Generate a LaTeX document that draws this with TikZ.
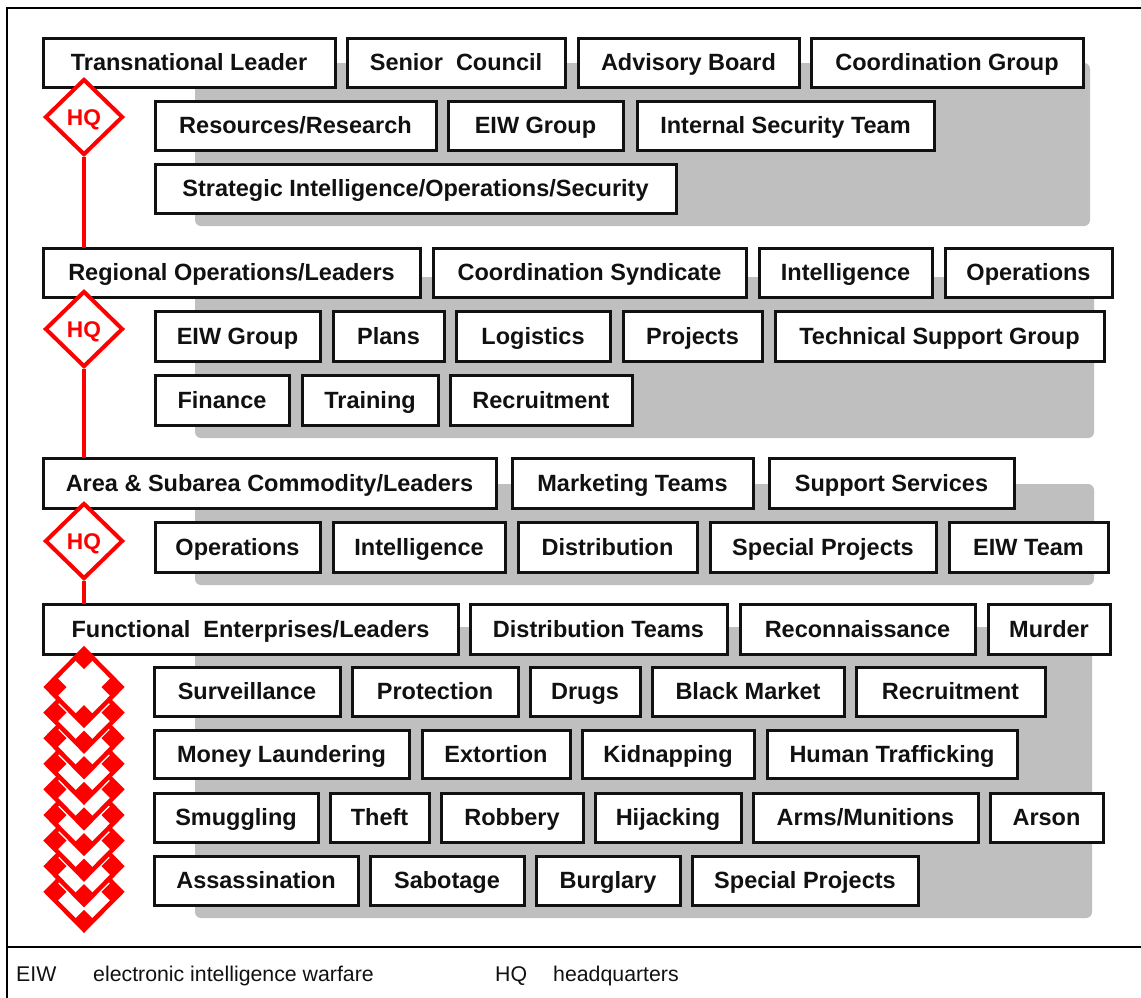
\documentclass[tikz,border=0pt]{standalone}
\usepackage{fontspec}
\setmainfont{Liberation Sans}
\usetikzlibrary{shapes.geometric}
\definecolor{panelgray}{HTML}{BFBFBF}
\definecolor{hqred}{HTML}{FF0000}
\definecolor{inkblack}{HTML}{111111}
\tikzset{
  orgbox/.style={draw=inkblack, line width=3pt, fill=white, inner sep=0pt, outer sep=0pt,
    font=\fontsize{23.5}{28}\selectfont\bfseries, text=inkblack,
    text height=16.8pt, text depth=0.5pt, align=center},
  hqdiamond/.style={diamond, draw=hqred, line width=4pt, fill=white, inner sep=0pt,
    minimum width=78pt, minimum height=76pt, text=hqred,
    font=\fontsize{22.7}{26}\selectfont\bfseries, text height=16.3pt, text depth=0pt},
  redline/.style={draw=hqred, line width=4pt},
  panel/.style={fill=panelgray, rounded corners=6pt},
  legend/.style={font=\fontsize{21.3}{25}\selectfont, anchor=base west, inner sep=0pt, text=inkblack},
  framestyle/.style={draw=black, line width=2.5pt}
}
\newcommand\orgbx[6]{%
  \node[orgbox, minimum width={(#4-#2)*1pt}, minimum height={(#5-#3)*1pt}]
    (#1) at ({(#2+#4)/2},{(#3+#5)/2}) {#6};}
\begin{document}
\begin{tikzpicture}[x=1pt,y=-1pt]
\useasboundingbox (0,0) rectangle (1141,997);
\fill[white] (0,0) rectangle (1141,997);
% frame
\draw[framestyle] (1150,8) -- (7,8) -- (7,1005);
\draw[framestyle] (7,947) -- (1150,947);
% panels
\fill[panel] (195,63) rectangle (1090,226);
\fill[panel] (195,277) rectangle (1094,438);
\fill[panel] (195,484) rectangle (1094,585);
\fill[panel] (195,627) rectangle (1092,918);
% level 1
\orgbx{tl}{43}{38}{335}{87}{Transnational Leader}
\orgbx{sc}{347}{38}{565}{87}{Senior\ \ Council}
\orgbx{ab}{578}{38}{799}{87}{Advisory Board}
\orgbx{cg}{811}{38}{1083}{87}{Coordination Group}
\orgbx{rr}{155}{101}{436}{150}{Resources/Research}
\orgbx{eiwa}{448}{101}{623}{150}{EIW Group}
\orgbx{ist}{637}{101}{934}{150}{Internal Security Team}
\orgbx{sios}{155}{164}{676}{213}{Strategic Intelligence/Operations/Security}
% level 2
\orgbx{rol}{43}{248}{420}{297}{Regional Operations/Leaders}
\orgbx{cs}{433}{248}{746}{297}{Coordination Syndicate}
\orgbx{inta}{759}{248}{932}{297}{Intelligence}
\orgbx{opsa}{945}{248}{1112}{297}{Operations}
\orgbx{eiwb}{155}{311}{320}{361}{EIW Group}
\orgbx{plans}{333}{311}{444}{361}{Plans}
\orgbx{logi}{456}{311}{610}{361}{Logistics}
\orgbx{proj}{623}{311}{762}{361}{Projects}
\orgbx{tsg}{775}{311}{1104}{361}{Technical Support Group}
\orgbx{fin}{155}{375}{289}{425}{Finance}
\orgbx{trn}{302}{375}{438}{425}{Training}
\orgbx{reca}{450}{375}{632}{425}{Recruitment}
% level 3
\orgbx{asc}{43}{458}{496}{508}{Area \& Subarea Commodity/Leaders}
\orgbx{mt}{512}{458}{753}{508}{Marketing Teams}
\orgbx{ss}{769}{458}{1014}{508}{Support Services}
\orgbx{opsb}{155}{522}{320}{572}{Operations}
\orgbx{intb}{333}{522}{505}{572}{Intelligence}
\orgbx{dist}{518}{522}{697}{572}{Distribution}
\orgbx{spa}{710}{522}{936}{572}{Special Projects}
\orgbx{eiwt}{949}{522}{1108}{572}{EIW Team}
% level 4
\orgbx{fel}{43}{604}{458}{654}{Functional\ \ Enterprises/Leaders}
\orgbx{dt}{470}{604}{727}{654}{Distribution Teams}
\orgbx{recon}{740}{604}{975}{654}{Reconnaissance}
\orgbx{mur}{988}{604}{1110}{654}{Murder}
\orgbx{surv}{154}{667}{340}{716}{Surveillance}
\orgbx{prot}{352}{667}{518}{716}{Protection}
\orgbx{drugs}{530}{667}{640}{716}{Drugs}
\orgbx{bm}{652}{667}{844}{716}{Black Market}
\orgbx{recb}{856}{667}{1045}{716}{Recruitment}
\orgbx{ml}{154}{730}{409}{778}{Money Laundering}
\orgbx{ext}{422}{730}{570}{778}{Extortion}
\orgbx{kid}{582}{730}{754}{778}{Kidnapping}
\orgbx{ht}{767}{730}{1017}{778}{Human Trafficking}
\orgbx{smug}{154}{793}{318}{842}{Smuggling}
\orgbx{theft}{330}{793}{429}{842}{Theft}
\orgbx{rob}{441}{793}{583}{842}{Robbery}
\orgbx{hij}{595}{793}{741}{842}{Hijacking}
\orgbx{arms}{753}{793}{978}{842}{Arms/Munitions}
\orgbx{arson}{990}{793}{1103}{842}{Arson}
\orgbx{ass}{154}{856}{358}{905}{Assassination}
\orgbx{sab}{370}{856}{524}{905}{Sabotage}
\orgbx{burg}{536}{856}{680}{905}{Burglary}
\orgbx{spb}{692}{856}{918}{905}{Special Projects}
% HQ diamonds
\node[hqdiamond] (hqa) at (84,117) {HQ};
\node[hqdiamond] (hqb) at (84,329) {HQ};
\node[hqdiamond] (hqc) at (84,541) {HQ};
\draw[redline] (hqa.south) -- (hqa.south |- rol.north);
\draw[redline] (hqb.south) -- (hqb.south |- asc.north);
\draw[redline] (hqc.south) -- (hqc.south |- fel.north);
% stacked diamonds
\foreach \k in {8,7,...,0}{
  \pgfmathsetmacro\cy{687+25.6*\k}
  \draw[hqred, line width=4.5pt, fill=white, line join=miter]
    (84,\cy-38) -- (121.5,\cy) -- (84,\cy+38) -- (46.5,\cy) -- cycle;
  \fill[hqred] (84,\cy-40) -- (95,\cy-29) -- (84,\cy-18) -- (73,\cy-29) -- cycle;
  \fill[hqred] (84,\cy+40) -- (95,\cy+29) -- (84,\cy+18) -- (73,\cy+29) -- cycle;
  \fill[hqred] (44.5,\cy) -- (55.5,\cy-11) -- (66.5,\cy) -- (55.5,\cy+11) -- cycle;
  \fill[hqred] (123.5,\cy) -- (112.5,\cy-11) -- (101.5,\cy) -- (112.5,\cy+11) -- cycle;
}
% legend
\node[legend] (lgeiw) at (16,981) {EIW};
\node[legend] (lgeiwt) at (93,981) {electronic intelligence warfare};
\node[legend] (lghq) at (495,981) {HQ};
\node[legend] (lghqt) at (553,981) {headquarters};
\end{tikzpicture}
\end{document}
